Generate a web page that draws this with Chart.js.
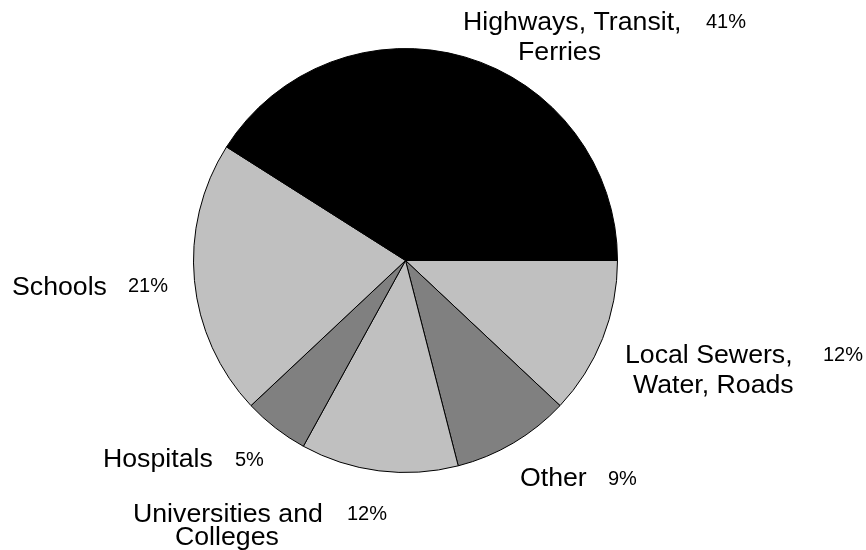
<!DOCTYPE html>
<html>
<head>
<meta charset="utf-8">
<title>Capital spending by category</title>
<script src="https://cdn.jsdelivr.net/npm/chart.js@4.4.1/dist/chart.umd.min.js"></script>
<style>
  html, body { margin: 0; padding: 0; background: #fff; }
  #wrap { width: 866px; height: 550px; }
</style>
</head>
<body>
<div id="wrap"><canvas id="pie" width="866" height="550"></canvas></div>
<script>
// slices run clockwise from 3 o'clock
const sectors = ['Local Sewers, Water, Roads', 'Other', 'Universities and Colleges', 'Hospitals', 'Schools', 'Highways, Transit, Ferries'];
const nameLines = [
    ['Local Sewers,', 'Water, Roads'],
    ['Other'],
    ['Universities and', 'Colleges'],
    ['Hospitals'],
    ['Schools'],
    ['Highways, Transit,', 'Ferries']
];
const shares = [12, 9, 12, 5, 21, 41];
const fills = ['#c0c0c0', '#808080', '#c0c0c0', '#808080', '#c0c0c0', '#000000'];

// label placement, offsets from the pie centre (left edge, baseline)
const labelSpots = [
    { lines: [[219.5, 102.5], [227.5, 132.5]], pct: [417.5, 100.5] },
    { lines: [[114.5, 225.5]], pct: [202.5, 224.5] },
    { lines: [[-272.5, 261.5], [-230.5, 284.5]], pct: [-58.5, 259.5] },
    { lines: [[-302.5, 206.5]], pct: [-170.5, 205.5] },
    { lines: [[-393.5, 34.5]], pct: [-277.5, 31.5] },
    { lines: [[57.5, -230.5], [112.5, -200.5]], pct: [300.5, -232.5] }
];

const nameFont = '26.7px "Liberation Sans", Arial, sans-serif';
const pctFont = '20px "Liberation Sans", Arial, sans-serif';

const sliceLabels = {
    id: 'sliceLabels',
    afterDatasetsDraw(chart) {
        const ctx = chart.ctx;
        const arcs = chart.getDatasetMeta(0).data;
        ctx.save();
        ctx.fillStyle = '#000';
        ctx.textAlign = 'left';
        ctx.textBaseline = 'alphabetic';
        arcs.forEach((arc, i) => {
            const spot = labelSpots[i];
            ctx.font = nameFont;
            nameLines[i].forEach((line, j) => {
                ctx.fillText(line, arc.x + spot.lines[j][0], arc.y + spot.lines[j][1]);
            });
            ctx.font = pctFont;
            ctx.fillText(shares[i] + '%', arc.x + spot.pct[0], arc.y + spot.pct[1]);
        });
        ctx.restore();
    }
};

new Chart(document.getElementById('pie'), {
    type: 'pie',
    data: {
        labels: sectors,
        datasets: [{
            data: shares,
            backgroundColor: fills,
            borderColor: '#000',
            borderWidth: 1
        }]
    },
    options: {
        responsive: false,
        animation: false,
        rotation: 90,
        layout: { padding: { top: 48, bottom: 77, left: 0, right: 55 } },
        plugins: {
            legend: { display: false },
            tooltip: { enabled: false }
        }
    },
    plugins: [sliceLabels]
});
</script>
</body>
</html>
